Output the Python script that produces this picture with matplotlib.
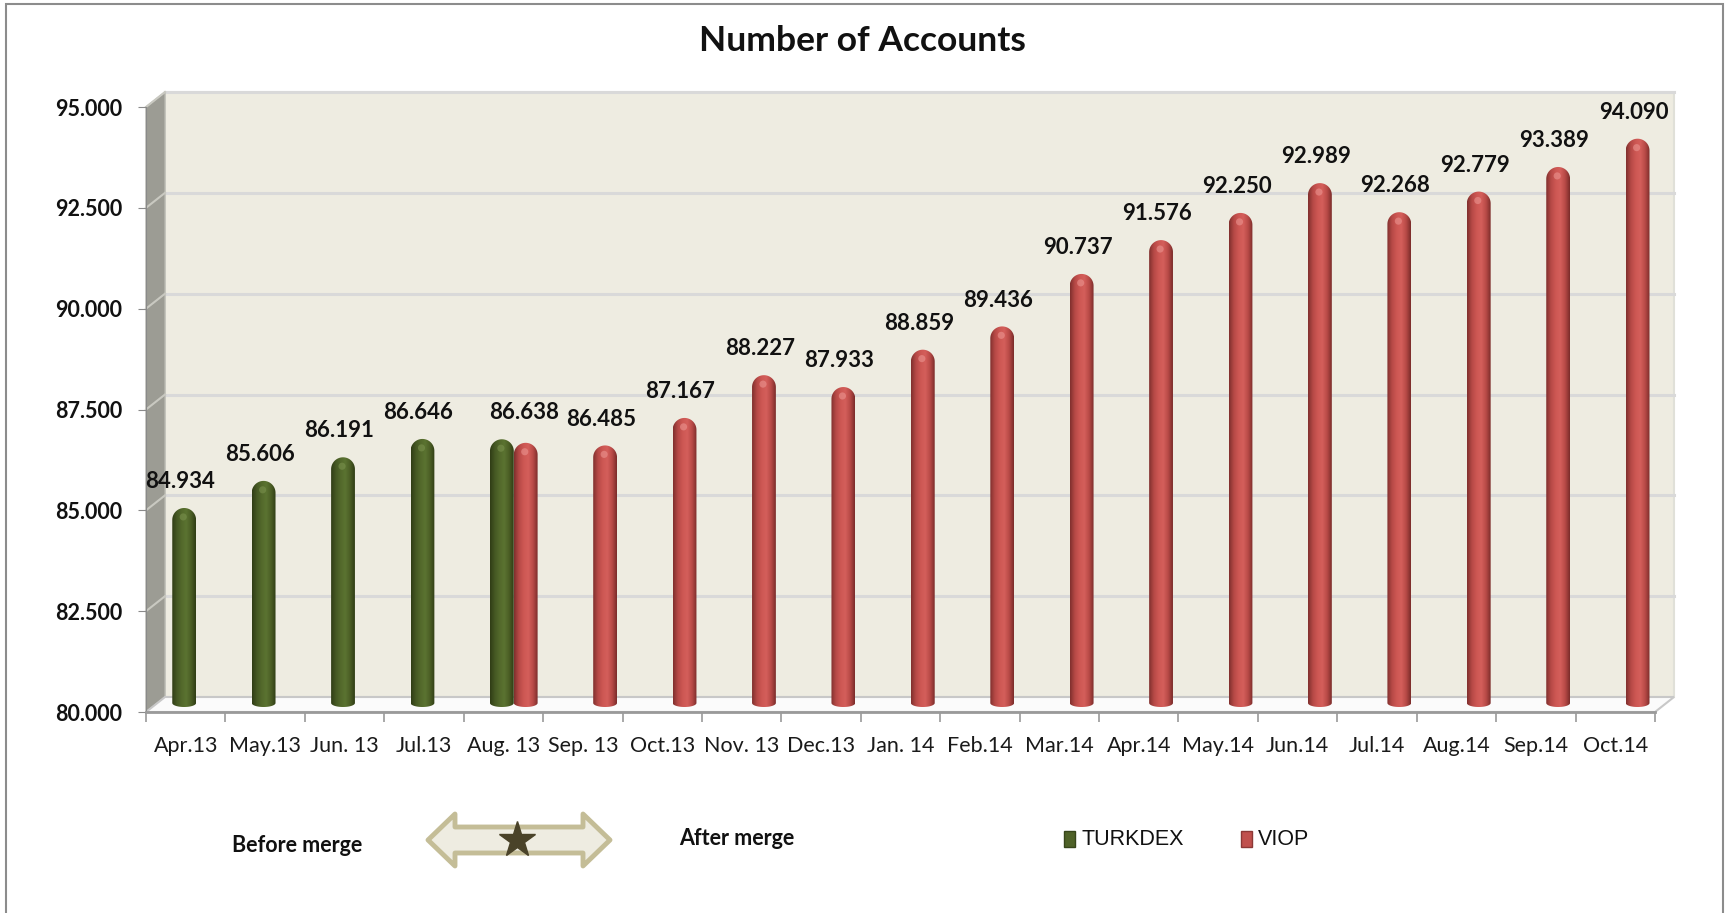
import numpy as np
import matplotlib
matplotlib.use('Agg')
import matplotlib.pyplot as plt
from matplotlib.path import Path
from matplotlib.patches import PathPatch, Polygon, Rectangle, Ellipse
from matplotlib.lines import Line2D
from matplotlib.colors import LinearSegmentedColormap
from matplotlib.transforms import ScaledTranslation
from matplotlib.ticker import FuncFormatter

# data
months = ['Apr.13', 'May.13', 'Jun. 13', 'Jul.13', 'Aug. 13', 'Sep. 13', 'Oct.13',
          'Nov. 13', 'Dec.13', 'Jan. 14', 'Feb.14', 'Mar.14', 'Apr.14', 'May.14',
          'Jun.14', 'Jul.14', 'Aug.14', 'Sep.14', 'Oct.14']
turkdex_pos = [0, 1, 2, 3, 4]
turkdex = [84934, 85606, 86191, 86646, 86638]
viop_pos = [4, 5, 6, 7, 8, 9, 10, 11, 12, 13, 14, 15, 16, 17, 18]
viop = [86550, 86485, 87167, 88227, 87933, 88859, 89436, 90737, 91576,
        92250, 92989, 92268, 92779, 93389, 94090]
yticks = [80000, 82500, 85000, 87500, 90000, 92500, 95000]

plt.rcParams['font.family'] = ['Lato', 'DejaVu Sans']

W, H = 1725, 913
fig = plt.figure(figsize=(W / 100, H / 100), dpi=100)

def thousands(v, pos=None):
    return f'{int(v):,}'.replace(',', '.')

# front plane of the 3d box
L, R, T, B = 146, 1655, 107, 712
ax_w, ax_h = R - L, B - T
DX, DY = 19, 15          # depth of the box
ax = fig.add_axes([L / W, 1 - B / H, ax_w / W, ax_h / H])
ax.set_xlim(-0.5, 18.5)
ax.set_ylim(80000, 95000)
ax.patch.set_visible(False)
for s in ['top', 'right']:
    ax.spines[s].set_visible(False)
ax.spines['left'].set_color('#8a8a8a')
ax.spines['bottom'].set_color('#9a9a9a')
ax.spines['bottom'].set_linewidth(2)
ax.set_yticks(yticks)
ax.yaxis.set_major_formatter(FuncFormatter(thousands))
ax.tick_params(axis='y', length=6, color='#8a8a8a', pad=11, labelsize=15.5,
               labelcolor='#111111')
for t in ax.get_yticklabels():
    t.set_fontweight('bold')
ax.set_xticks(range(len(months)))
ax.set_xticklabels(months, fontsize=15.5, color='#1a1a1a')
ax.set_xticks(np.arange(-0.5, len(months)), minor=True)
ax.tick_params(axis='x', which='major', length=0, pad=17)
ax.tick_params(axis='x', which='minor', length=7, color='#9a9a9a', width=1.2)

off_back = ScaledTranslation(DX / 100, DY / 100, fig.dpi_scale_trans)
dxa, dya = DX / ax_w, DY / ax_h

# back wall
ax.add_patch(Rectangle((0, 0), 1, 1, transform=ax.transAxes + off_back,
                       facecolor='#eeece1', edgecolor='#e0e0d8', lw=1.5,
                       clip_on=False, zorder=0))
for v in yticks[1:]:
    ax.plot([-0.5, 18.5], [v, v], transform=ax.transData + off_back,
            color='#d9d9d9', lw=2.2, clip_on=False, zorder=0.5)
# side wall
ax.add_patch(Polygon([(0, 0), (0, 1), (dxa, 1 + dya), (dxa, dya)],
                     transform=ax.transAxes, facecolor='#9c9c94',
                     edgecolor='#b8b8b0', lw=1, clip_on=False, zorder=0.6))
for v in yticks[1:]:
    yf = (v - 80000) / 15000
    ax.plot([0, dxa], [yf, yf + dya], transform=ax.transAxes,
            color='#c9c9c1', lw=1.5, clip_on=False, zorder=0.7)
# floor
ax.add_patch(Polygon([(0, 0), (1, 0), (1 + dxa, dya), (dxa, dya)],
                     transform=ax.transAxes, facecolor='#fbfbfb',
                     edgecolor='#c8c8c8', lw=1.5, clip_on=False, zorder=0.8))

# bars sit half way into the box
bx, by = 8, 5
axb = fig.add_axes([(L + bx) / W, 1 - (B - by) / H, ax_w / W, ax_h / H], zorder=2)
axb.set_xlim(-0.5, 18.5)
axb.set_ylim(80000, 95000)
axb.axis('off')

green_cm = LinearSegmentedColormap.from_list(
    'g', ['#2f3c15', '#455823', '#53692b', '#5b7331', '#4b5e25', '#303d15'])
red_cm = LinearSegmentedColormap.from_list(
    'r', ['#7f2f2d', '#b54946', '#cd5753', '#d45f5b', '#b84a47', '#7a2c2a'])

bw = 0.3
px_x = ax_w / 19.0
px_y = ax_h / 15000.0
ry = (bw / 2 * px_x) / px_y
ry_b = 4 / px_y
grad = np.linspace(0, 1, 128).reshape(1, -1)

def cylinder(x, v, cmap, hi):
    x0, x1 = x - bw / 2, x + bw / 2
    th = np.linspace(np.pi, 0, 40)
    top = np.column_stack([x + bw / 2 * np.cos(th), v - ry + ry * np.sin(th)])
    th2 = np.linspace(0, -np.pi, 40)
    bot = np.column_stack([x + bw / 2 * np.cos(th2), 80000 + ry_b + ry_b * np.sin(th2)])
    verts = np.vstack([top, bot, top[:1]])
    patch = PathPatch(Path(verts, closed=True), facecolor='none', edgecolor='none')
    axb.add_patch(patch)
    im = axb.imshow(grad, cmap=cmap, extent=[x0, x1, 80000, v], aspect='auto',
                    origin='lower', interpolation='bilinear', zorder=2)
    im.set_clip_path(patch)
    axb.add_patch(Ellipse((x - bw * 0.04, v - ry * 0.75), bw * 0.3, ry * 0.6,
                          facecolor=hi, edgecolor='none', alpha=0.55, zorder=3))

for x, v in zip(turkdex_pos, turkdex):
    cylinder(x - 0.12, v, green_cm, '#7d9450')
for x, v in zip(viop_pos, viop):
    cylinder(x + 0.18, v, red_cm, '#ee9a96')

# data labels
for x, v in zip(turkdex_pos, turkdex):
    xl = x - 0.17 if x != 4 else x + 0.16
    axb.annotate(thousands(v), xy=(xl, v), xytext=(0, 19), textcoords='offset points',
                 ha='center', va='center', fontsize=16, fontweight='bold',
                 color='#111111')
for x, v in zip(viop_pos[1:], viop[1:]):
    axb.annotate(thousands(v), xy=(x + 0.13, v), xytext=(0, 19), textcoords='offset points',
                 ha='center', va='center', fontsize=16, fontweight='bold',
                 color='#111111')

# title
fig.text(862 / W, 1 - 41 / H, 'Number of Accounts', ha='center', va='center',
         fontsize=25.5, fontweight='bold', color='#111111')

# merge note under the chart
fig.text(297 / W, 1 - 845 / H, 'Before merge', ha='center', va='center',
         fontsize=15.5, fontweight='bold', color='#111111')
fig.text(737 / W, 1 - 838 / H, 'After merge', ha='center', va='center',
         fontsize=15.5, fontweight='bold', color='#111111')
arrow_px = [(428, 840), (455, 814), (455, 827), (583, 827), (583, 814), (610, 840),
            (583, 866), (583, 853), (455, 853), (455, 866)]
fig.add_artist(Polygon([(px / W, 1 - py / H) for px, py in arrow_px],
                       transform=fig.transFigure, facecolor='#eeece1',
                       edgecolor='#c4bd97', lw=3.5, joinstyle='round'))
fig.add_artist(Line2D([517 / W], [1 - 840 / H], transform=fig.transFigure,
                      marker='*', markersize=27, color='#4a4329', linestyle='none'))

# legend
for x0, col, ec, name in [(1064, '#4f6228', '#37461b', 'TURKDEX'),
                          (1241, '#c0504d', '#8c3836', 'VIOP')]:
    fig.add_artist(Rectangle((x0 / W, 1 - 847 / H), 11 / W, 16 / H,
                             transform=fig.transFigure, facecolor=col,
                             edgecolor=ec, lw=1))
    fig.text((x0 + 17) / W, 1 - 839 / H, name, ha='left', va='center',
             fontsize=15.5, color='#111111',
             family=['Liberation Sans Narrow', 'Liberation Sans'])

# outer frame
fig.add_artist(Rectangle((6 / W, -0.02), 1717 / W, 1.02 - 4 / H,
                         transform=fig.transFigure, facecolor='none',
                         edgecolor='#8c8c8c', lw=1.5))

fig.savefig('out.png', dpi=100)
